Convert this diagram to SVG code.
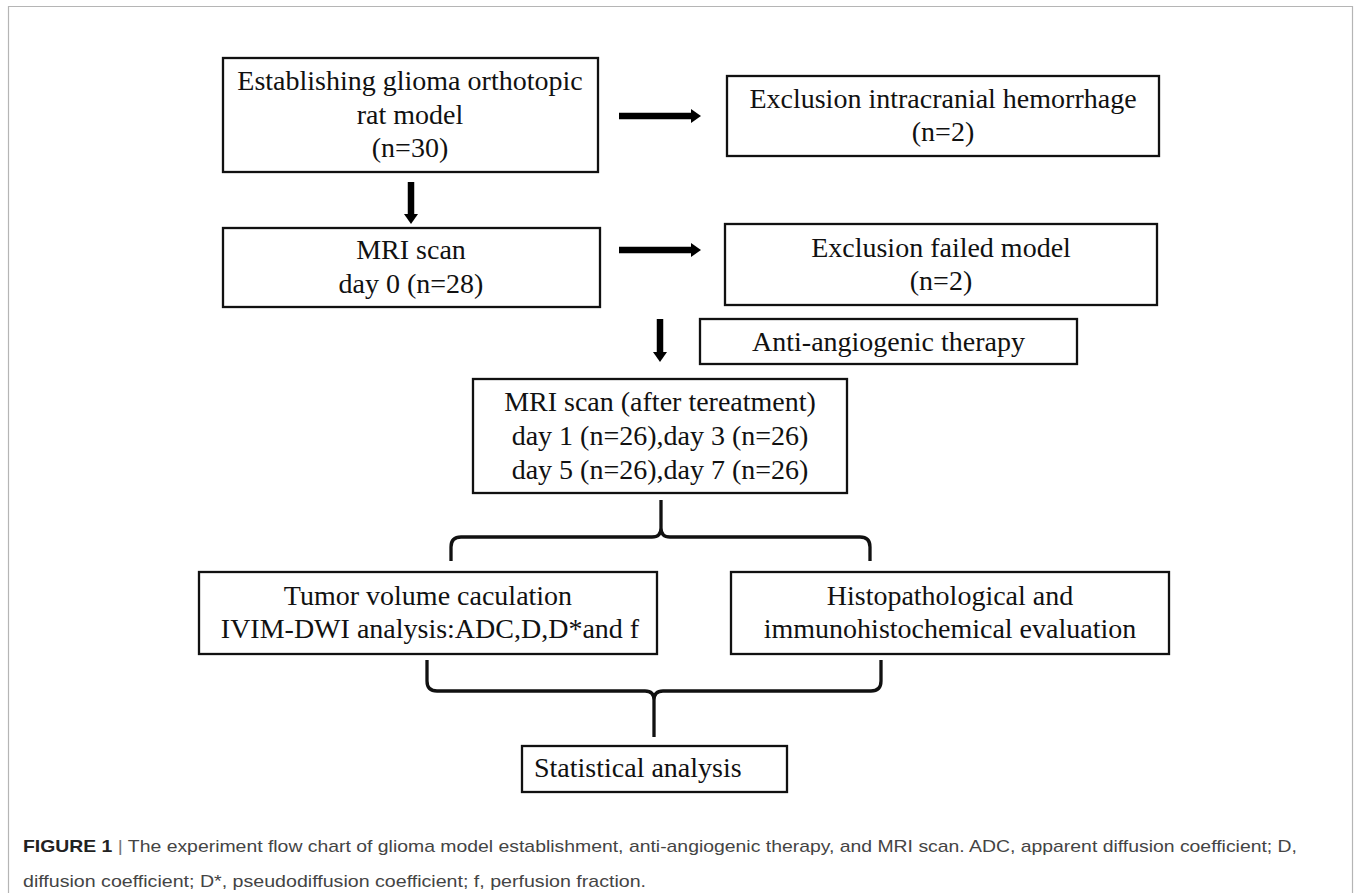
<svg xmlns="http://www.w3.org/2000/svg" width="1356" height="893" viewBox="0 0 1356 893">
<style>
.box{fill:#fff;stroke:#111;stroke-width:2.3}
.t{font-family:"Liberation Serif","Times New Roman",serif;font-size:28px;fill:#111;text-anchor:middle}
.arr{stroke:#000;stroke-width:6.5;fill:none}
.brace{stroke:#111;stroke-width:3.3;fill:none;stroke-linecap:butt}
.cap{font-family:"Liberation Sans",Arial,sans-serif;font-size:17px;fill:#444}
</style>
<defs>
<marker id="ah" viewBox="0 0 10 14" refX="1" refY="7" markerWidth="10" markerHeight="14" markerUnits="userSpaceOnUse" orient="auto">
<path d="M0,0 L10,7 L0,14 z" fill="#000"/>
</marker>
</defs>
<rect width="1356" height="893" fill="#fff"/>
<path d="M8.5,893 L8.5,6.5 L1352.5,6.5 L1352.5,893" fill="none" stroke="#b5b5b5" stroke-width="1.2"/>

<g id="connectors">
<line class="arr" x1="619" y1="116" x2="692" y2="116" marker-end="url(#ah)"/>
<line class="arr" x1="619" y1="250" x2="692" y2="250" marker-end="url(#ah)"/>
<line class="arr" x1="411" y1="182" x2="411" y2="215" marker-end="url(#ah)"/>
<line class="arr" x1="660" y1="319" x2="660" y2="353" marker-end="url(#ah)"/>
<path class="brace" d="M451,561 L451,547 Q451,537 461,537 L652,537 Q661,537 661,528 L661,500 M661,528 Q661,537 670,537 L860,537 Q870,537 870,547 L870,561"/>
<path class="brace" d="M427,660 L427,681 Q427,691 437,691 L645,691 Q654,691 654,700 L654,737 M654,700 Q654,691 663,691 L871,691 Q881,691 881,681 L881,660"/>
</g>

<g id="node-establish">
<rect class="box" x="223" y="58" width="375" height="114"/>
<text class="t" x="410" y="90">Establishing glioma orthotopic</text>
<text class="t" x="410" y="124">rat model</text>
<text class="t" x="410" y="157">(n=30)</text>
</g>

<g id="node-exclusion-hemorrhage">
<rect class="box" x="727" y="76" width="432" height="80"/>
<text class="t" x="943" y="108">Exclusion intracranial hemorrhage</text>
<text class="t" x="943" y="141">(n=2)</text>
</g>

<g id="node-mri-day0">
<rect class="box" x="223" y="228" width="377" height="79"/>
<text class="t" x="411" y="259">MRI scan</text>
<text class="t" x="411" y="293">day 0 (n=28)</text>
</g>

<g id="node-exclusion-failed">
<rect class="box" x="725" y="224" width="432" height="81"/>
<text class="t" x="941" y="257">Exclusion failed model</text>
<text class="t" x="941" y="290">(n=2)</text>
</g>

<g id="node-therapy">
<rect class="box" x="700" y="319" width="377" height="45"/>
<text class="t" x="888.5" y="351">Anti-angiogenic therapy</text>
</g>

<g id="node-mri-after">
<rect class="box" x="473" y="379" width="374" height="114"/>
<text class="t" x="660" y="411">MRI scan (after tereatment)</text>
<text class="t" x="660" y="445">day 1 (n=26),day 3 (n=26)</text>
<text class="t" x="660" y="479">day 5 (n=26),day 7 (n=26)</text>
</g>

<g id="node-tumor">
<rect class="box" x="199" y="572" width="458" height="82"/>
<text class="t" x="428" y="605">Tumor volume caculation</text>
<text class="t" x="430" y="638">IVIM-DWI analysis:ADC,D,D*and f</text>
</g>

<g id="node-histo">
<rect class="box" x="731" y="572" width="438" height="82"/>
<text class="t" x="950" y="605">Histopathological and</text>
<text class="t" x="950" y="638">immunohistochemical evaluation</text>
</g>

<g id="node-statistical">
<rect class="box" x="522" y="746" width="265" height="46"/>
<text class="t" x="534" y="777" style="text-anchor:start">Statistical analysis</text>
</g>

<g id="caption">
<text class="cap" x="23" y="852" textLength="1274" lengthAdjust="spacingAndGlyphs"><tspan font-weight="bold" fill="#222">FIGURE 1</tspan><tspan fill="#777"> | </tspan>The experiment flow chart of glioma model establishment, anti-angiogenic therapy, and MRI scan. ADC, apparent diffusion coefficient; D,</text>
<text class="cap" x="23" y="887" textLength="623" lengthAdjust="spacingAndGlyphs">diffusion coefficient; D*, pseudodiffusion coefficient; f, perfusion fraction.</text>
</g>
</svg>
